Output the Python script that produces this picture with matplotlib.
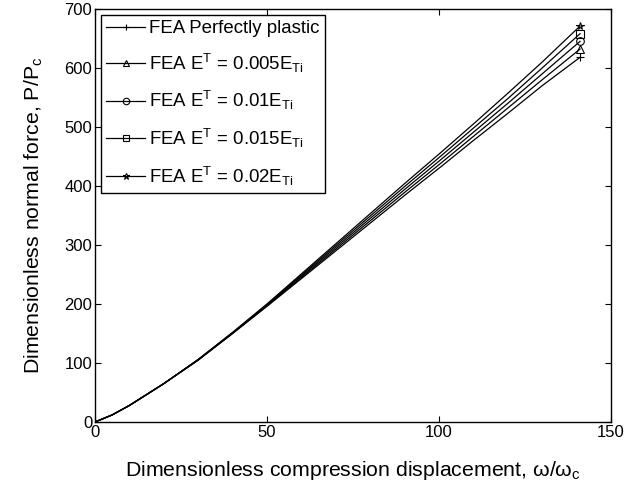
import matplotlib
matplotlib.use('Agg')
import matplotlib.pyplot as plt

plt.rcParams['font.family'] = ['Liberation Sans', 'DejaVu Sans']
plt.rcParams['mathtext.fontset'] = 'custom'
plt.rcParams['mathtext.rm'] = 'Liberation Sans'
plt.rcParams['mathtext.it'] = 'Liberation Sans'

# displacement (omega/omega_c)
x = [0, 5, 10, 20, 30, 40, 50, 60, 70, 80, 90, 100, 110, 120, 130, 141]

# normal force P/Pc for each FEA case
y_plastic = [0, 12, 28, 65, 105, 150, 196, 243, 290, 337, 384, 430, 477, 523, 570, 618]
y_005 = [0, 12, 28, 65, 105, 150, 197, 245, 293, 341, 389, 436, 484, 532, 580, 632]
y_010 = [0, 12, 28, 65, 105, 151, 198, 247, 296, 345, 394, 442, 491, 540, 590, 645]
y_015 = [0, 12, 28, 65, 106, 151, 199, 249, 299, 349, 399, 448, 498, 548, 600, 658]
y_020 = [0, 12, 28, 65, 106, 152, 200, 251, 302, 353, 404, 454, 505, 557, 610, 671]

series = [
    (y_plastic, '+', 'FEA Perfectly plastic'),
    (y_005, '^', r'FEA E$^{\mathrm{T}}$ = 0.005E$_{\mathrm{Ti}}$'),
    (y_010, 'o', r'FEA E$^{\mathrm{T}}$ = 0.01E$_{\mathrm{Ti}}$'),
    (y_015, 's', r'FEA E$^{\mathrm{T}}$ = 0.015E$_{\mathrm{Ti}}$'),
    (y_020, '*', r'FEA E$^{\mathrm{T}}$ = 0.02E$_{\mathrm{Ti}}$'),
]

fig = plt.figure(figsize=(6.27, 4.9), dpi=100)
ax = fig.add_axes([0.1515, 0.1388, 0.823, 0.843])

for y, m, lab in series:
    ax.plot(x, y, color='black', lw=0.9, marker=m, markevery=[len(x) - 1],
            markersize=5.5, markerfacecolor='none', markeredgecolor='black',
            markeredgewidth=0.8, label=lab)

ax.set_xlim(0, 150)
ax.set_ylim(0, 700)
ax.set_xticks([0, 50, 100, 150])
ax.set_yticks(range(0, 701, 100))
ax.tick_params(direction='in', top=True, right=True, labelsize=12, length=4, pad=2)
for s in ax.spines.values():
    s.set_linewidth(1.0)

ax.set_xlabel(r'Dimensionless compression displacement, $\omega$/$\omega_{\mathrm{c}}$',
              fontsize=15.3, labelpad=14)
ax.set_ylabel(r'Dimensionless normal force, P/P$_{\mathrm{c}}$', fontsize=15.3, labelpad=14)

leg = ax.legend(loc='upper left', fontsize=13.4, fancybox=False, edgecolor='black',
                framealpha=1, borderaxespad=0.3, handlelength=2.1, labelspacing=0.78,
                handletextpad=0.2, borderpad=0.3, markerscale=0.85)
leg.get_frame().set_linewidth(1.0)

fig.savefig('out.png', dpi=100)
